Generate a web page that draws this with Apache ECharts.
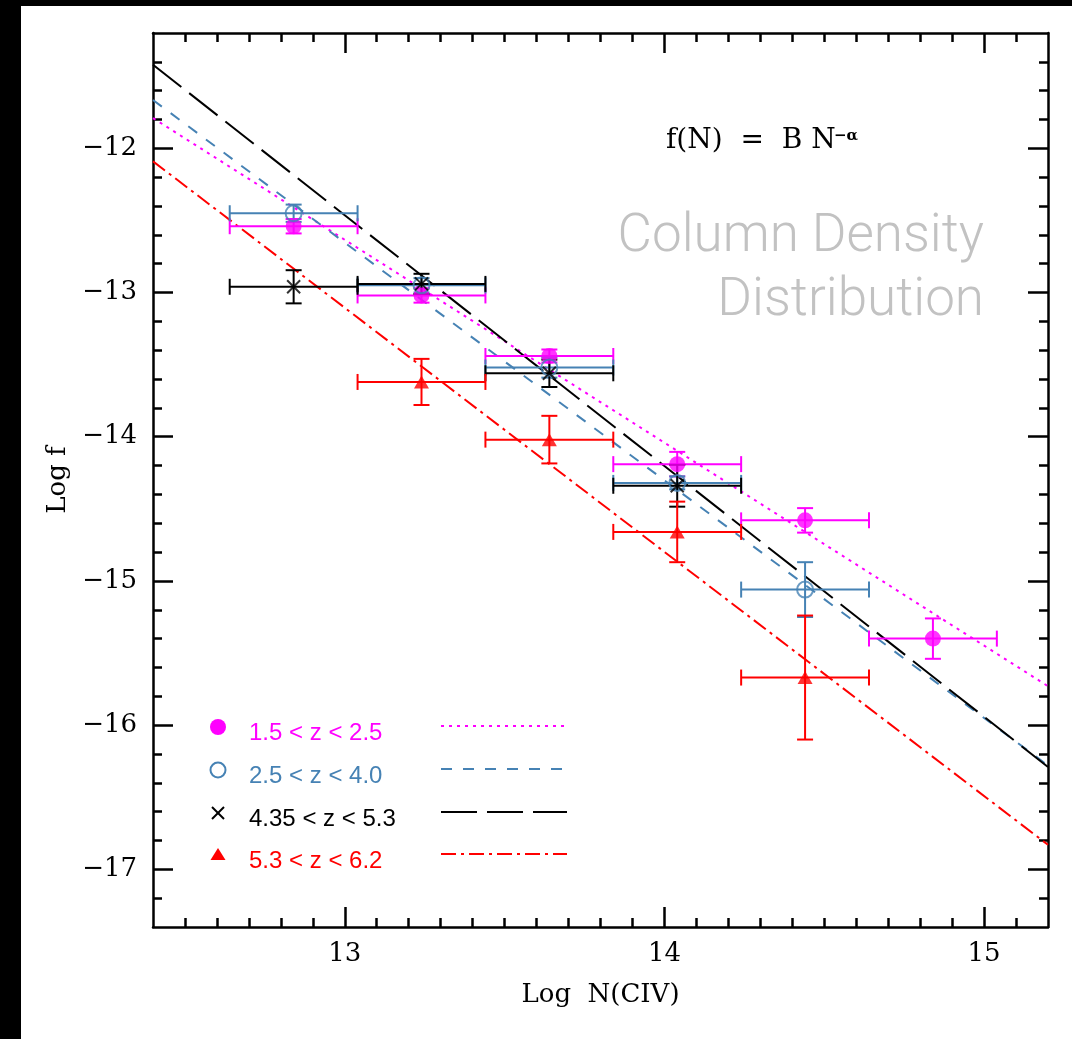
<!DOCTYPE html>
<html>
<head>
<meta charset="utf-8">
<script src="https://cdn.jsdelivr.net/npm/echarts@6/dist/echarts.min.js"></script>
<style>
  html, body { margin: 0; padding: 0; background: #fff; }
  #chart { width: 1072px; height: 1039px; }
</style>
</head>
<body>
<div id="chart"></div>
<script>
// tick positions and labels
const xMajorTicks = [13, 14, 15];
const xMinorTicks = [12.5, 12.6, 12.7, 12.8, 12.9,
  13.1, 13.2, 13.3, 13.4, 13.5, 13.6, 13.7, 13.8, 13.9,
  14.1, 14.2, 14.3, 14.4, 14.5, 14.6, 14.7, 14.8, 14.9, 15.1];
const yMajorTicks = [-17, -16, -15, -14, -13, -12];
const yMinorTicks = [-17.2, -16.8, -16.6, -16.4, -16.2, -15.8, -15.6, -15.4, -15.2,
  -14.8, -14.6, -14.4, -14.2, -13.8, -13.6, -13.4, -13.2,
  -12.8, -12.6, -12.4, -12.2, -11.8, -11.6, -11.4];

// half width of the column density bins
const binHalf = 0.2;

// 1.5 < z < 2.5
const magentaX = [12.84, 13.24, 13.64, 14.04, 14.44, 14.84];
const magentaY = [-12.54, -13.02, -13.44, -14.19, -14.58, -15.40];
const magentaErr = [0.05, 0.05, 0.045, 0.085, 0.085, 0.14];

// 2.5 < z < 4.0
const blueX = [12.84, 13.24, 13.64, 14.04, 14.44];
const blueY = [-12.45, -12.95, -13.52, -14.32, -15.06];
const blueErr = [0.06, 0.05, 0.07, 0.045, 0.19];

// 4.35 < z < 5.3
const blackX = [12.84, 13.24, 13.64, 14.04];
const blackY = [-12.96, -12.94, -13.56, -14.34];
const blackErr = [0.115, 0.07, 0.095, 0.145];

// 5.3 < z < 6.2
const redX = [13.24, 13.64, 14.04, 14.44];
const redY = [-13.62, -14.02, -14.66, -15.67];
const redErr = [0.16, 0.165, 0.21, 0.43];

// power-law fits, end points
const magentaFit = [[12.4, -11.79], [15.2, -15.73]];
const blueFit = [[12.4, -11.665], [15.2, -16.28]];
const blackFit = [[12.4, -11.42], [15.2, -16.29]];
const redFit = [[12.4, -12.09], [15.2, -16.83]];

const MAGENTA = '#ff00ff';
const BLUE = '#4682b4';
const BLACK = '#000000';
const RED = '#ff0000';
const SERIF = '"DejaVu Serif", serif';
const SANS = '"Liberation Sans", Arial, sans-serif';

const fmtMinus = (v) => (v < 0 ? '\u2212' + Math.abs(v) : String(v));

const chart = echarts.init(document.getElementById('chart'));

function makeAxis(kind, position, gridIndex, ticks, len, labels) {
  const axis = {
    type: 'value',
    gridIndex: gridIndex,
    position: position,
    min: kind === 'x' ? 12.4 : -17.4,
    max: kind === 'x' ? 15.2 : -11.2,
    splitLine: { show: false },
    axisLine: { show: gridIndex === 0, onZero: false, lineStyle: { color: '#000', width: 2.5 } },
    axisTick: { show: true, inside: true, length: len, customValues: ticks, lineStyle: { color: '#000', width: 2.5 } },
    axisLabel: { show: false }
  };
  if (labels) {
    axis.axisLabel = {
      show: true,
      customValues: labels,
      formatter: fmtMinus,
      color: '#000',
      fontFamily: SERIF,
      fontSize: 26,
      margin: kind === 'x' ? 14 : 16
    };
  }
  return axis;
}

const xAxes = [
  makeAxis('x', 'bottom', 0, xMajorTicks, 20, xMajorTicks),
  makeAxis('x', 'top', 0, xMajorTicks, 20, null),
  makeAxis('x', 'bottom', 1, xMinorTicks, 9, null),
  makeAxis('x', 'top', 1, xMinorTicks, 9, null)
];
Object.assign(xAxes[0], {
  name: 'Log  N(CIV)', nameLocation: 'middle', nameGap: 55,
  nameTextStyle: { fontFamily: SERIF, fontSize: 26, color: '#000' }
});
const yAxes = [
  makeAxis('y', 'left', 0, yMajorTicks, 20, yMajorTicks),
  makeAxis('y', 'right', 0, yMajorTicks, 20, null),
  makeAxis('y', 'left', 1, yMinorTicks, 9, null),
  makeAxis('y', 'right', 1, yMinorTicks, 9, null)
];
Object.assign(yAxes[0], {
  name: 'Log f', nameLocation: 'middle', nameGap: 80, nameRotate: 90,
  nameTextStyle: { fontFamily: SERIF, fontSize: 26, color: '#000' }
});

function errorBars(params, api) {
  const x = api.value(0), y = api.value(1), xe = api.value(2), ye = api.value(3);
  const l = api.coord([x - xe, y]);
  const r = api.coord([x + xe, y]);
  const t = api.coord([x, y + ye]);
  const b = api.coord([x, y - ye]);
  const cap = 8;
  const style = { stroke: api.visual('color'), lineWidth: 2, fill: null };
  const seg = (x1, y1, x2, y2) => ({ type: 'line', shape: { x1, y1, x2, y2 }, style });
  return {
    type: 'group',
    children: [
      seg(l[0], l[1], r[0], r[1]),
      seg(l[0], l[1] - cap, l[0], l[1] + cap),
      seg(r[0], r[1] - cap, r[0], r[1] + cap),
      seg(t[0], t[1], b[0], b[1]),
      seg(t[0] - cap, t[1], t[0] + cap, t[1]),
      seg(b[0] - cap, b[1], b[0] + cap, b[1])
    ]
  };
}

function barsSeries(xs, ys, errs, color) {
  return {
    type: 'custom',
    renderItem: errorBars,
    itemStyle: { color: color },
    encode: { x: 0, y: 1 },
    data: xs.map((x, i) => [x, ys[i], binHalf, errs[i]]),
    silent: true,
    z: 3
  };
}

function fitSeries(points, color, dash) {
  return {
    type: 'line',
    data: points,
    showSymbol: false,
    silent: true,
    lineStyle: { color: color, width: 2, type: dash },
    z: 2
  };
}

function markSeries(xs, ys, symbol, size, itemStyle) {
  return {
    type: 'scatter',
    data: xs.map((x, i) => [x, ys[i]]),
    symbol: symbol,
    symbolSize: size,
    itemStyle: itemStyle,
    silent: true,
    z: 4
  };
}

// legend drawn by hand: symbol, label, line sample
const legendRows = [
  { label: '1.5 < z < 2.5', color: MAGENTA, y: 727, dash: [3, 5] },
  { label: '2.5 < z < 4.0', color: BLUE, y: 770, dash: [11, 11] },
  { label: '4.35 < z < 5.3', color: BLACK, y: 813, dash: [36, 10] },
  { label: '5.3 < z < 6.2', color: RED, y: 855, dash: [15, 5, 3, 5] }
];
const legendGraphics = [];
legendRows.forEach((row) => {
  legendGraphics.push({
    type: 'text', x: 249, y: row.y + 6,
    style: { text: row.label, fill: row.color, font: '24px ' + SANS, textVerticalAlign: 'middle' }
  });
  legendGraphics.push({
    type: 'line', shape: { x1: 441, y1: row.y - 1, x2: 567, y2: row.y - 1 },
    style: { stroke: row.color, lineWidth: 2, lineDash: row.dash }
  });
});
legendGraphics.push(
  { type: 'circle', shape: { cx: 218, cy: 727, r: 8 }, style: { fill: MAGENTA } },
  { type: 'circle', shape: { cx: 218, cy: 770, r: 7.5 }, style: { fill: null, stroke: BLUE, lineWidth: 2 } },
  { type: 'line', shape: { x1: 212, y1: 807, x2: 224, y2: 819 }, style: { stroke: BLACK, lineWidth: 2 } },
  { type: 'line', shape: { x1: 224, y1: 807, x2: 212, y2: 819 }, style: { stroke: BLACK, lineWidth: 2 } },
  { type: 'polygon', shape: { points: [[218, 848], [225.5, 860], [210.5, 860]] }, style: { fill: RED } }
);

chart.setOption({
  animation: false,
  backgroundColor: '#fff',
  grid: [
    { left: 153, top: 33, width: 895, height: 894, outerBoundsMode: 'none' },
    { left: 153, top: 33, width: 895, height: 894, outerBoundsMode: 'none' }
  ],
  xAxis: xAxes,
  yAxis: yAxes,
  graphic: [
    { type: 'rect', shape: { x: 0, y: 0, width: 21, height: 1039 }, style: { fill: '#000' } },
    { type: 'rect', shape: { x: 0, y: 0, width: 1072, height: 6 }, style: { fill: '#000' } },
    {
      type: 'text', x: 666, y: 141,
      style: { text: 'f(N)  =  B N', fill: '#000', font: '28px ' + SERIF, textVerticalAlign: 'middle' }
    },
    {
      type: 'text', x: 834, y: 136,
      style: { text: '\u2212\u03b1', fill: '#000', font: 'bold 15px ' + SERIF, textVerticalAlign: 'middle' }
    },
    {
      type: 'text', x: 984, y: 270,
      style: {
        text: 'Column Density\nDistribution', fill: '#c2c2c2',
        font: '300 53px Roboto, "Liberation Sans", sans-serif',
        lineHeight: 64, textAlign: 'right', textVerticalAlign: 'middle'
      }
    }
  ].concat(legendGraphics),
  series: [
    fitSeries(magentaFit, MAGENTA, [3, 5]),
    fitSeries(blueFit, BLUE, [11, 11]),
    fitSeries(blackFit, BLACK, [36, 10]),
    fitSeries(redFit, RED, [15, 5, 3, 5]),
    barsSeries(magentaX, magentaY, magentaErr, MAGENTA),
    barsSeries(blueX, blueY, blueErr, BLUE),
    barsSeries(blackX, blackY, blackErr, BLACK),
    barsSeries(redX, redY, redErr, RED),
    markSeries(magentaX, magentaY, 'circle', 16, { color: MAGENTA }),
    markSeries(blueX, blueY, 'circle', 16, { color: 'rgba(0,0,0,0)', borderColor: BLUE, borderWidth: 2 }),
    markSeries(blackX, blackY, 'path://M0 0L10 10M10 0L0 10', 13, { color: 'rgba(0,0,0,0)', borderColor: BLACK, borderWidth: 2 }),
    markSeries(redX, redY, 'triangle', [15, 13], { color: RED })
  ]
});
</script>
</body>
</html>
